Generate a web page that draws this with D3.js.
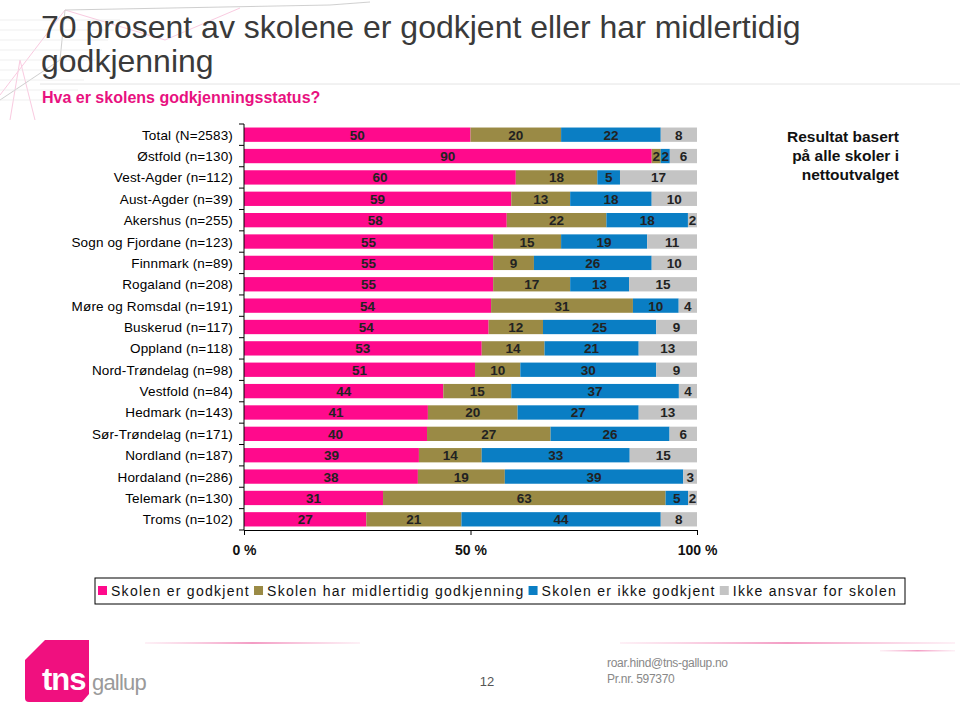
<!DOCTYPE html>
<html><head><meta charset="utf-8">
<script src="https://cdn.jsdelivr.net/npm/d3@7"></script>
<style>
html,body{margin:0;padding:0;background:#fff;}
svg{display:block;font-family:"Liberation Sans",Arial,sans-serif;}
</style></head>
<body>
<svg id="c" width="960" height="710"></svg>
<script>
const categories = ["Total (N=2583)","Østfold (n=130)","Vest-Agder (n=112)","Aust-Agder (n=39)","Akershus (n=255)","Sogn og Fjordane (n=123)","Finnmark (n=89)","Rogaland (n=208)","Møre og Romsdal (n=191)","Buskerud (n=117)","Oppland (n=118)","Nord-Trøndelag (n=98)","Vestfold (n=84)","Hedmark (n=143)","Sør-Trøndelag (n=171)","Nordland (n=187)","Hordaland (n=286)","Telemark (n=130)","Troms (n=102)"];
const godkjent     = [50,90,60,59,58,55,55,55,54,54,53,51,44,41,40,39,38,31,27];
const midlertidig  = [20,2,18,13,22,15,9,17,31,12,14,10,15,20,27,14,19,63,21];
const ikkeGodkjent = [22,2,5,18,18,19,26,13,10,25,21,30,37,27,26,33,39,5,44];
const ikkeAnsvar   = [8,6,17,10,2,11,10,15,4,9,13,9,4,13,6,15,3,2,8];
const seriesNames = ["Skolen er godkjent","Skolen har midlertidig godkjenning","Skolen er ikke godkjent","Ikke ansvar for skolen"];
const seriesColors = ["#FF0A8C","#9A8A45","#0A7EC4","#C4C4C4"];
const tickValues = [0, 0.5, 1];
const tickLabels = ["0 %","50 %","100 %"];

const svg = d3.select("#c");

// faint decorative background sketch at top-left
const deco = svg.append("g").attr("opacity",0.35);
deco.append("path").attr("d","M0,95 L65,10 L165,40 L240,8").attr("fill","none").attr("stroke","#f06aa8").attr("stroke-width",1);
deco.append("path").attr("d","M10,120 L20,60 L35,120").attr("fill","none").attr("stroke","#f06aa8").attr("stroke-width",1);
deco.append("path").attr("d","M0,100 L60,60 L65,10 L330,5 L370,2").attr("fill","none").attr("stroke","#777").attr("stroke-width",1);
for(let i=0;i<9;i++){
  deco.append("line").attr("x1",0).attr("x2",120-i*6).attr("y1",20+i*10).attr("y2",20+i*10).attr("stroke","#bbb").attr("stroke-width",0.6);
}
svg.append("line").attr("x1",40).attr("x2",960).attr("y1",84).attr("y2",84).attr("stroke","#e4e4e4").attr("stroke-width",1);

// title
svg.append("text").attr("x",41).attr("y",38).attr("font-size",32).attr("fill","#3a3a3a").text("70 prosent av skolene er godkjent eller har midlertidig");
svg.append("text").attr("x",41).attr("y",72).attr("font-size",32).attr("fill","#3a3a3a").text("godkjenning");
svg.append("text").attr("x",42).attr("y",103).attr("font-size",16).attr("font-weight","bold").attr("fill","#E8117F").text("Hva er skolens godkjenningsstatus?");

// note
const note = ["Resultat basert","på alle skoler i","nettoutvalget"];
svg.append("g").selectAll("text").data(note).join("text")
  .attr("x",899).attr("y",(d,i)=>142+i*19).attr("text-anchor","end")
  .attr("font-size",15.5).attr("font-weight","bold").attr("fill","#111").text(d=>d);

// chart
const x0 = 244, x1 = 697, yTop = 124, yBot = 530;
const x = d3.scaleLinear().domain([0,1]).range([x0,x1]);
const y = d3.scaleBand().domain(categories).range([yTop,yBot]).paddingInner(0.33).paddingOuter(0.165);

const rows = categories.map((c,i)=>({cat:c, s0:godkjent[i], s1:midlertidig[i], s2:ikkeGodkjent[i], s3:ikkeAnsvar[i]}));
const keys = ["s0","s1","s2","s3"];
const stacked = d3.stack().keys(keys).offset(d3.stackOffsetExpand)(rows);

const g = svg.append("g");
stacked.forEach((layer,k)=>{
  const lg = g.append("g");
  lg.selectAll("rect").data(layer).join("rect")
    .attr("x",d=>x(d[0])).attr("width",d=>x(d[1])-x(d[0]))
    .attr("y",d=>y(d.data.cat)).attr("height",y.bandwidth())
    .attr("fill",seriesColors[k]);
});
stacked.forEach((layer,k)=>{
  g.append("g").selectAll("text").data(layer).join("text")
    .attr("x",d=>(x(d[0])+x(d[1]))/2).attr("y",d=>y(d.data.cat)+y.bandwidth()/2+5)
    .attr("text-anchor","middle").attr("font-size",13.5).attr("font-weight","bold").attr("fill","#222")
    .text(d=>d.data[keys[k]]);
});

// y axis
const ya = svg.append("g").attr("transform",`translate(${x0},0)`);
ya.append("line").attr("x1",0).attr("x2",0).attr("y1",yTop).attr("y2",yBot).attr("stroke","#000");
const bounds = d3.range(categories.length+1).map(i=>yTop+i*y.step());
ya.selectAll("line.t").data(bounds).join("line").attr("class","t")
  .attr("x1",-5).attr("x2",0).attr("y1",d=>d).attr("y2",d=>d).attr("stroke","#000");
svg.append("g").selectAll("text").data(categories).join("text")
  .attr("x",233).attr("y",d=>y(d)+y.bandwidth()/2+5).attr("text-anchor","end")
  .attr("font-size",13.5).attr("letter-spacing",0.15).attr("fill","#000").text(d=>d);

// x axis
const xa = svg.append("g").attr("transform",`translate(0,${yBot})`)
  .call(d3.axisBottom(x).tickValues(tickValues).tickFormat((d,i)=>tickLabels[i]).tickSize(5).tickSizeOuter(0));
xa.select(".domain").attr("stroke","#000");
xa.selectAll(".tick line").attr("stroke","#000");
xa.selectAll(".tick text").attr("font-size",14).attr("font-weight","bold").attr("fill","#111").attr("dy",0).attr("y",25)
  .attr("font-family","Liberation Sans,Arial,sans-serif");

// legend
svg.append("rect").attr("x",95).attr("y",578).attr("width",810).attr("height",26).attr("fill","#fff").attr("stroke","#000");
const leg = svg.append("g").attr("transform","translate(98,591)");
let cx = 0;
seriesNames.forEach((name,i)=>{
  const it = leg.append("g").attr("transform",`translate(${cx},0)`);
  it.append("rect").attr("x",0).attr("y",-5).attr("width",9).attr("height",9).attr("fill",seriesColors[i]);
  const t = it.append("text").attr("x",13).attr("y",5).attr("font-size",14).attr("letter-spacing",1.28).attr("fill","#111").text(name);
  cx += 13 + t.node().getComputedTextLength() + 4;
});

// footer
const fl = svg.append("defs").append("linearGradient").attr("id","fg");
fl.append("stop").attr("offset","0").attr("stop-color","#f7b6d3").attr("stop-opacity",0.2);
fl.append("stop").attr("offset","0.5").attr("stop-color","#f39cc4");
fl.append("stop").attr("offset","1").attr("stop-color","#f7b6d3").attr("stop-opacity",0.2);
svg.append("rect").attr("x",145).attr("y",642).attr("width",215).attr("height",2).attr("fill","url(#fg)");
svg.append("rect").attr("x",620).attr("y",642).attr("width",335).attr("height",2).attr("fill","url(#fg)");
svg.append("rect").attr("x",880).attr("y",650).attr("width",75).attr("height",1.5).attr("fill","url(#fg)");

svg.append("path").attr("d","M45,640 L89,640 L89,694 L82,702 L29,702 Q25,702 25,698 L25,660 Z").attr("fill","#F0107F");
svg.append("text").attr("x",42).attr("y",690).attr("font-size",31).attr("font-weight","bold").attr("fill","#fff").attr("letter-spacing",-1).text("tns");
svg.append("text").attr("x",92).attr("y",690).attr("font-size",22).attr("fill","#9a9a9a").attr("letter-spacing",-0.8).text("gallup");
svg.append("text").attr("x",487).attr("y",686).attr("text-anchor","middle").attr("font-size",13).attr("fill","#555").text("12");
svg.append("text").attr("x",607).attr("y",667).attr("font-size",12).attr("fill","#888").attr("letter-spacing",-0.3).text("roar.hind@tns-gallup.no");
svg.append("text").attr("x",607).attr("y",683).attr("font-size",12).attr("fill","#888").attr("letter-spacing",-0.3).text("Pr.nr. 597370");
</script>
</body></html>
